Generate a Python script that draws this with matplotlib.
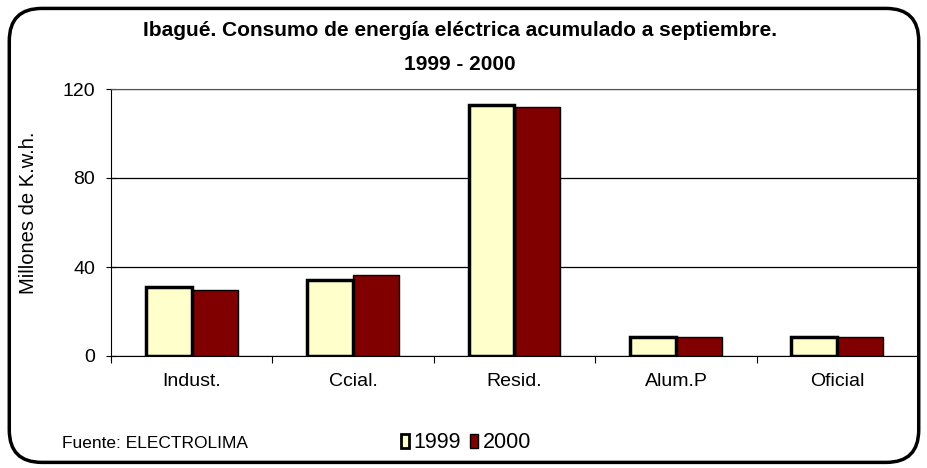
import numpy as np
import matplotlib.pyplot as plt
from matplotlib.patches import FancyBboxPatch, Patch

plt.rcParams['font.family'] = ['Liberation Sans', 'DejaVu Sans']

categories = ['Indust.', 'Ccial.', 'Resid.', 'Alum.P', 'Oficial']
values_1999 = [30.8, 34.0, 112.7, 8.7, 8.7]
values_2000 = [29.5, 36.6, 112.0, 8.5, 8.5]
series_labels = ['1999', '2000']
y_ticks = [0, 40, 80, 120]

W, H = 928, 468
fig = plt.figure(figsize=(W / 100, H / 100), dpi=100)

# rounded outer frame
frame = FancyBboxPatch((0.010, 0.012), 0.980, 0.970, boxstyle='round,pad=0,rounding_size=0.035',
                       transform=fig.transFigure, fill=False, edgecolor='black', linewidth=2.5,
                       mutation_aspect=W / H)
fig.patches.append(frame)

ax = fig.add_axes([111 / W, 1 - 356 / H, 807 / W, 267 / H])

x = np.arange(len(categories))
w = 0.285
ax.bar(x - w / 2, values_1999, w, color='#FFFFCC', edgecolor='black', linewidth=2.5, zorder=3)
ax.bar(x + w / 2, values_2000, w, color='#800000', edgecolor='black', linewidth=1.0, zorder=2)

ax.set_xlim(-0.5, len(categories) - 0.5)
ax.set_ylim(0, 120)
ax.set_yticks(y_ticks)
ax.tick_params(axis='y', labelsize=14, length=7, direction='inout', pad=8)
ax.yaxis.grid(True, color='black', linewidth=0.9, zorder=0)
ax.set_axisbelow(True)

ax.set_xticks(np.arange(len(categories) + 1) - 0.5)
ax.set_xticklabels([])
ax.set_xticks(x, minor=True)
ax.set_xticklabels(categories, minor=True, fontsize=14)
ax.tick_params(axis='x', which='major', length=5, direction='out')
ax.tick_params(axis='x', which='minor', length=0, pad=12.5)

for s in ['top', 'right']:
    ax.spines[s].set_color('#555555')

ax.set_ylabel('Millones de K.w.h.', fontsize=14.5)
ax.yaxis.set_label_coords(38 / W, 1 - 213 / H, transform=fig.transFigure)

fig.text(0.496, 1 - 30 / H, 'Ibagué. Consumo de energía eléctrica acumulado a septiembre.',
         ha='center', va='center', fontsize=15, fontweight='bold')
fig.text(0.496, 1 - 64 / H, '1999 - 2000', ha='center', va='center', fontsize=15, fontweight='bold')

fig.text(62 / W, 1 - 443 / H, 'Fuente: ELECTROLIMA', ha='left', va='center', fontsize=12.5)

handles = [Patch(facecolor='#FFFFCC', edgecolor='black', linewidth=2),
           Patch(facecolor='#800000', edgecolor='black', linewidth=1)]
fig.legend(handles, series_labels, loc='center left', bbox_to_anchor=(390 / W, 1 - 443 / H), ncol=2,
           frameon=False, fontsize=15.5, borderpad=0, handlelength=0.4, handleheight=0.6,
           handletextpad=0.2, columnspacing=0.4)

fig.savefig('out.png', dpi=100)
